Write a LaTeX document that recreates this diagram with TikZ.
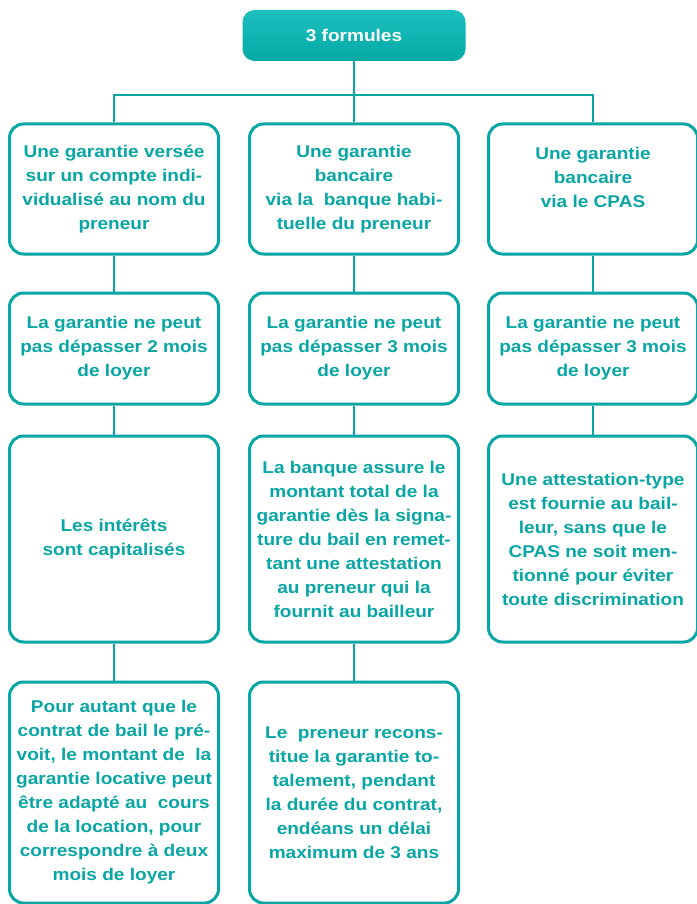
\documentclass[tikz,border=0pt]{standalone}
\usepackage{fontspec}
\setmainfont{Liberation Sans}[FakeStretch=1.12]
\definecolor{teal1}{HTML}{08A6A4}
\definecolor{tealtop}{HTML}{1CC0BE}
\definecolor{tealbot}{HTML}{04A9A6}
\begin{document}
\begin{tikzpicture}[x=1pt,y=-1pt,
  txt/.style={font=\fontsize{17}{24}\selectfont\bfseries, align=center},
  box/.style={txt, draw=teal1, line width=3pt, rounded corners=14pt, text=teal1,
    minimum width=209pt, inner sep=2pt},
  head/.style={txt, rounded corners=12pt, top color=tealtop, bottom color=tealbot,
    text=white, minimum width=223pt, minimum height=51pt, inner sep=2pt},
  link/.style={draw=teal1, line width=2.8pt}]
\useasboundingbox (0,0) rectangle (696,904);
\fill[white] (0,0) rectangle (696,904);

\node[head] (top) at (354,35.5) {3 formules};

% row 1
\node[box, minimum height=130pt] (a1) at (114,189) {Une garantie versée\\sur un compte indi-\\vidualisé au nom du\\preneur};
\node[box, minimum height=130pt] (b1) at (354,189) {Une garantie\\bancaire\\via la~ banque habi-\\tuelle du preneur};
\node[box, minimum height=130pt] (c1) at (593,189) {Une garantie\\bancaire\\via le CPAS\\\mbox{}};

% row 2
\node[box, minimum height=111pt] (a2) at (114,348.5) {La garantie ne peut\\pas dépasser 2 mois\\de loyer};
\node[box, minimum height=111pt] (b2) at (354,348.5) {La garantie ne peut\\pas dépasser 3 mois\\de loyer};
\node[box, minimum height=111pt] (c2) at (593,348.5) {La garantie ne peut\\pas dépasser 3 mois\\de loyer};

% row 3
\node[box, minimum height=206pt] (a3) at (114,539) {Les intérêts\\sont capitalisés};
\node[box, minimum height=206pt] (b3) at (354,539) {La banque assure le\\montant total de la\\garantie dès la signa-\\ture du bail en remet-\\tant une attestation\\au preneur qui la\\fournit au bailleur};
\node[box, minimum height=206pt] (c3) at (593,539) {Une attestation-type\\est fournie au bail-\\leur, sans que le\\CPAS ne soit men-\\tionné pour éviter\\toute discrimination};

% row 4
\node[box, minimum height=221pt] (a4) at (114,792.5) {Pour autant que le\\contrat de bail le pré-\\voit, le montant de~ la\\garantie locative peut\\être adapté au~ cours\\de la location, pour\\correspondre à deux\\mois de loyer};
\node[box, minimum height=221pt] (b4) at (354,792.5) {Le~ preneur recons-\\titue la garantie to-\\talement, pendant\\la durée du contrat,\\endéans un délai\\maximum de 3 ans};

\coordinate (j) at (354,95);

\draw[link] (top.south) -- (b1.north);
\draw[link] (a1.north) -- (a1.north |- j) -- (c1.north |- j) -- (c1.north);
\draw[link] (a1) -- (a2); \draw[link] (a2) -- (a3); \draw[link] (a3) -- (a4);
\draw[link] (b1) -- (b2); \draw[link] (b2) -- (b3); \draw[link] (b3) -- (b4);
\draw[link] (c1) -- (c2); \draw[link] (c2) -- (c3);
\end{tikzpicture}
\end{document}
